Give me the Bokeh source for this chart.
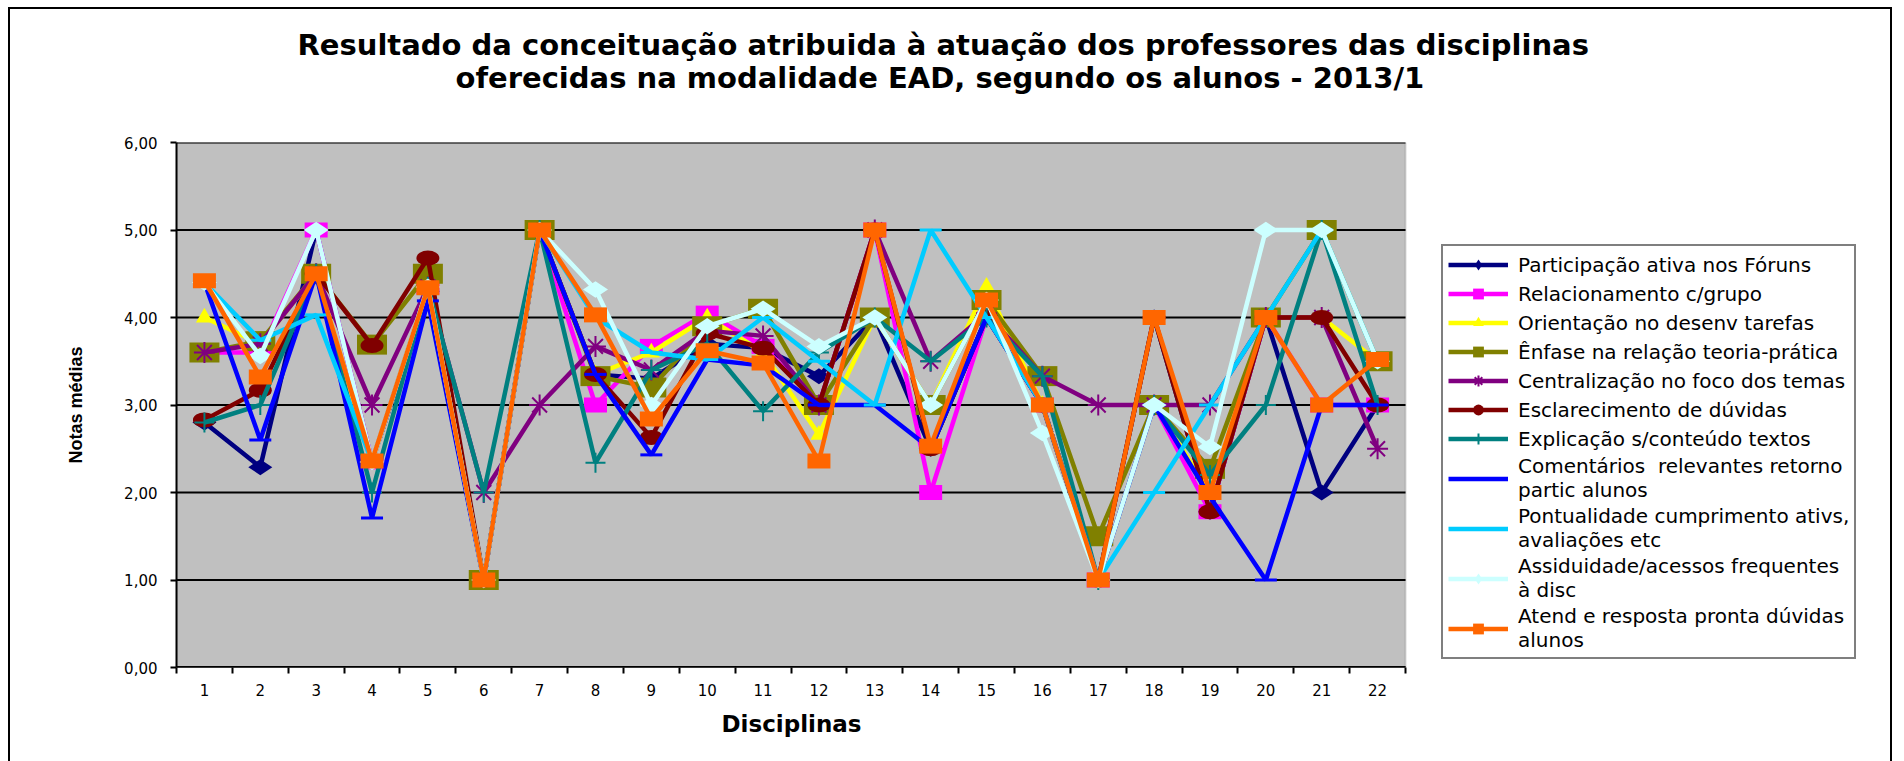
import math
from bokeh.plotting import figure
from bokeh.layouts import column
from bokeh.models import FixedTicker, Legend, LegendItem, Title, BoxAnnotation
from bokeh.embed import file_html
from bokeh.resources import INLINE

# ---------------- data ----------------
categories = list(range(1, 23))
category_labels = [str(c) for c in categories]
y_ticks = [0, 1, 2, 3, 4, 5, 6]
y_tick_labels = ["0,00", "1,00", "2,00", "3,00", "4,00", "5,00", "6,00"]

series_names = [
    "Participação ativa nos Fóruns",
    "Relacionamento c/grupo",
    "Orientação no desenv tarefas",
    "Ênfase na relação teoria-prática",
    "Centralização no foco dos temas",
    "Esclarecimento de dúvidas",
    "Explicação s/conteúdo textos",
    "Comentários  relevantes retorno\npartic alunos",
    "Pontualidade cumprimento ativs,\navaliações etc",
    "Assiduidade/acessos frequentes\nà disc",
    "Atend e resposta pronta dúvidas\nalunos",
]

participacao = [2.80, 2.29, 5.00, 2.35, 4.30, 1.00, 5.00, 3.35, 3.30, 3.70, 3.65, 3.33, 4.00, 2.50, 4.00, 3.00, 1.00, 4.00, 1.78, 4.00, 2.00, 3.00]
relacionamento = [3.60, 3.60, 5.00, 2.35, 4.35, 1.00, 5.00, 3.00, 3.67, 4.05, 3.67, 3.00, 5.00, 2.00, 4.00, 3.00, 1.00, 3.00, 1.78, 4.00, 3.00, 3.00]
orientacao = [4.00, 3.70, 4.50, 2.35, 4.35, 1.00, 5.00, 3.35, 3.60, 4.00, 3.60, 2.66, 4.00, 3.00, 4.35, 3.00, 1.00, 3.00, 2.00, 4.00, 4.00, 3.50]
enfase = [3.60, 3.73, 4.50, 3.69, 4.50, 1.00, 5.00, 3.33, 3.20, 3.90, 4.10, 3.00, 4.00, 3.00, 4.20, 3.33, 1.50, 3.00, 2.27, 4.00, 5.00, 3.50]
centralizacao = [3.60, 3.70, 4.50, 3.00, 4.35, 2.00, 3.00, 3.67, 3.40, 3.85, 3.79, 3.00, 5.00, 3.50, 4.05, 3.33, 3.00, 3.00, 3.00, 4.00, 4.00, 2.50]
esclarecimento = [2.83, 3.17, 4.50, 3.68, 4.68, 1.00, 5.00, 3.35, 2.63, 3.82, 3.65, 3.00, 5.00, 2.50, 4.00, 3.00, 1.00, 4.00, 1.78, 4.00, 4.00, 3.00]
explicacao = [2.80, 3.00, 4.50, 2.00, 4.35, 2.00, 5.00, 2.34, 3.40, 3.70, 2.93, 3.60, 4.00, 3.50, 4.00, 3.33, 1.00, 3.00, 2.20, 3.00, 5.00, 3.00]
comentarios = [4.40, 2.60, 4.50, 1.71, 4.19, 1.00, 5.00, 3.35, 2.43, 3.52, 3.45, 3.00, 3.00, 2.50, 4.00, 3.00, 1.00, 3.00, 1.95, 1.00, 3.00, 3.00]
pontualidade = [4.40, 3.74, 4.03, 2.35, 4.35, 1.00, 5.00, 4.00, 3.60, 3.52, 4.00, 3.50, 3.00, 5.00, 4.00, 3.00, 1.00, 2.00, 3.00, 4.00, 5.00, 3.50]
assiduidade = [4.40, 3.56, 5.00, 2.35, 4.35, 1.00, 5.00, 4.32, 3.00, 3.90, 4.10, 3.67, 4.00, 3.00, 4.20, 2.68, 1.00, 3.00, 2.52, 5.00, 5.00, 3.50]
atendimento = [4.42, 3.32, 4.50, 2.36, 4.34, 1.00, 5.00, 4.03, 2.84, 3.62, 3.48, 2.36, 5.00, 2.53, 4.20, 3.00, 1.00, 4.00, 2.00, 4.00, 3.00, 3.52]

series_values = [participacao, relacionamento, orientacao, enfase, centralizacao,
                 esclarecimento, explicacao, comentarios, pontualidade, assiduidade, atendimento]

title_lines = ["Resultado da conceituação atribuida à atuação dos professores das disciplinas",
               "oferecidas na modalidade EAD, segundo os alunos - 2013/1"]
x_title = "Disciplinas"
y_title = "Notas médias"

# ---------------- layout / styles ----------------
colors = ["#000080", "#FF00FF", "#FFFF00", "#808000", "#800080", "#800000",
          "#008080", "#0000FF", "#00CCFF", "#CCFFFF", "#FF6600"]
markers = [("diamond", 24, 0), ("rect", 23, 15), ("triangle", 17, 0), ("rect", 30, 20),
           ("asterisk", 21, 0), ("ellipse", 23, 15), ("cross", 20, 0), ("dash", 22, 0),
           ("dash", 22, 0), ("diamond", 25, 0), ("rect", 23, 15)]

FONT = "DejaVu Sans"
AREA_W = 1229          # width in px of the grey plotting area
FRAME_W = 1704         # frame also hosts the legend on its right
LEFT, TOP, BOTTOM, RIGHT = 166, 133, 94, 4

x_lo = categories[0] - 0.5
x_hi = categories[-1] + 0.5
x_end = x_lo + (x_hi - x_lo) * FRAME_W / AREA_W

p = figure(width=LEFT + FRAME_W + RIGHT, height=TOP + 525 + BOTTOM,
           output_backend="svg", toolbar_location=None,
           x_range=(x_lo, x_end), y_range=(y_ticks[0], y_ticks[-1]),
           min_border_left=LEFT, min_border_right=RIGHT, min_border_top=TOP, min_border_bottom=BOTTOM)
p.background_fill_color = "white"
p.border_fill_color = "white"
p.outline_line_color = None
p.xgrid.grid_line_color = None
p.ygrid.grid_line_color = None

# grey plotting area (top/right edges grey as in the original)
p.add_layout(BoxAnnotation(left=x_lo, right=x_hi, bottom=y_ticks[0], top=y_ticks[-1],
                           fill_color="#C0C0C0", fill_alpha=1.0, line_color="#808080",
                           line_width=2, level="underlay"))
# horizontal grid lines limited to the plotting area
p.segment(x0=[x_lo] * len(y_ticks), x1=[x_hi] * len(y_ticks), y0=y_ticks, y1=y_ticks,
          line_color="black", line_width=2)
# bottom axis line limited to the plotting area
p.segment(x0=[x_lo], x1=[x_hi], y0=[y_ticks[0]], y1=[y_ticks[0]], line_color="black", line_width=3)

# x axis
p.xaxis.ticker = FixedTicker(ticks=categories,
                             minor_ticks=[c - 0.5 for c in categories] + [x_hi])
p.xaxis.major_label_overrides = {c: l for c, l in zip(categories, category_labels)}
p.xaxis.axis_line_color = None
p.xaxis.major_tick_out = 0
p.xaxis.major_tick_in = 0
p.xaxis.minor_tick_out = 6
p.xaxis.minor_tick_in = 0
p.xaxis.minor_tick_line_color = "black"
p.xaxis.minor_tick_line_width = 2
p.xaxis.major_label_text_font = FONT
p.xaxis.major_label_text_font_size = "15px"
p.xaxis.major_label_text_color = "black"
p.xaxis.major_label_standoff = 10

# y axis
p.yaxis.ticker = FixedTicker(ticks=y_ticks)
p.yaxis.major_label_overrides = {t: l for t, l in zip(y_ticks, y_tick_labels)}
p.yaxis.major_tick_out = 6
p.yaxis.major_tick_in = 0
p.yaxis.major_tick_line_width = 2
p.yaxis.minor_tick_line_color = None
p.yaxis.axis_line_width = 2
p.yaxis.major_label_text_font = FONT
p.yaxis.major_label_text_font_size = "15px"
p.yaxis.major_label_text_color = "black"
p.yaxis.major_label_standoff = 13
p.yaxis.axis_label = y_title
p.yaxis.axis_label_text_font = "Liberation Sans"
p.yaxis.axis_label_text_font_style = "bold"
p.yaxis.axis_label_text_font_size = "18px"
p.yaxis.axis_label_text_color = "black"
p.yaxis.axis_label_standoff = 35

# x axis title, centred under the grey area
p.add_layout(Title(text=x_title, align="left", offset=545, standoff=20,
                   text_font=FONT, text_font_style="bold", text_font_size="23px",
                   text_color="black"), "below")

items = []
for name, vals, col, (kind, w, h) in zip(series_names, series_values, colors, markers):
    rs = [p.line(categories, vals, line_color=col, line_width=4.5)]
    if kind == "rect":
        p.rect(categories, vals, width=w, height=h, width_units="screen", height_units="screen",
               fill_color=col, line_color=None)
        rs.append(p.scatter(categories, vals, marker="square", size=0, fill_color=col, line_color=None))
    elif kind == "ellipse":
        p.ellipse(categories, vals, width=w, height=h, width_units="screen", height_units="screen",
                  fill_color=col, line_color=None)
        rs.append(p.scatter(categories, vals, marker="circle", size=0, fill_color=col, line_color=None))
    elif kind == "diamond":
        rs.append(p.scatter(categories, vals, marker="diamond", size=w, angle=math.pi / 2,
                            fill_color=col, line_color=None))
    elif kind == "triangle":
        rs.append(p.scatter(categories, vals, marker="triangle", size=w, fill_color=col, line_color=None))
    elif kind == "asterisk":
        rs.append(p.scatter(categories, vals, marker="asterisk", size=w, line_color=col, line_width=2))
    elif kind == "cross":
        rs.append(p.scatter(categories, vals, marker="cross", size=w, line_color=col, line_width=2))
    elif kind == "dash":
        rs.append(p.scatter(categories, vals, marker="dash", size=w, line_color=col, line_width=3))
    items.append(LegendItem(label=name, renderers=rs))

legend = Legend(items=items, location=(AREA_W + 36, 8), glyph_width=60, glyph_height=27,
                label_height=27, spacing=2, padding=5, margin=0, label_standoff=10,
                label_text_font=FONT, label_text_font_size="20px",
                label_text_color="black",
                border_line_color="black", border_line_width=2,
                background_fill_color="white", background_fill_alpha=1.0)
p.add_layout(legend)

# titles: the first added sits closest to the plot
TITLE_SIZE = "29px"
spacer = Title(text=" ", text_font_size="10px", standoff=35)
t2 = Title(text=title_lines[1], align="left", offset=279, standoff=0,
           text_font=FONT, text_font_style="bold", text_font_size=TITLE_SIZE, text_color="black")
t1 = Title(text=title_lines[0], align="left", offset=121, standoff=-6,
           text_font=FONT, text_font_style="bold", text_font_size=TITLE_SIZE, text_color="black")
p.add_layout(spacer, "above")
p.add_layout(t2, "above")
p.add_layout(t1, "above")

page = column(p, width=1884, height=756, margin=(7, 0, 0, 8),
              styles={"border": "2px solid black", "background-color": "white"})

open("out.html", "w").write(file_html(page, INLINE))
